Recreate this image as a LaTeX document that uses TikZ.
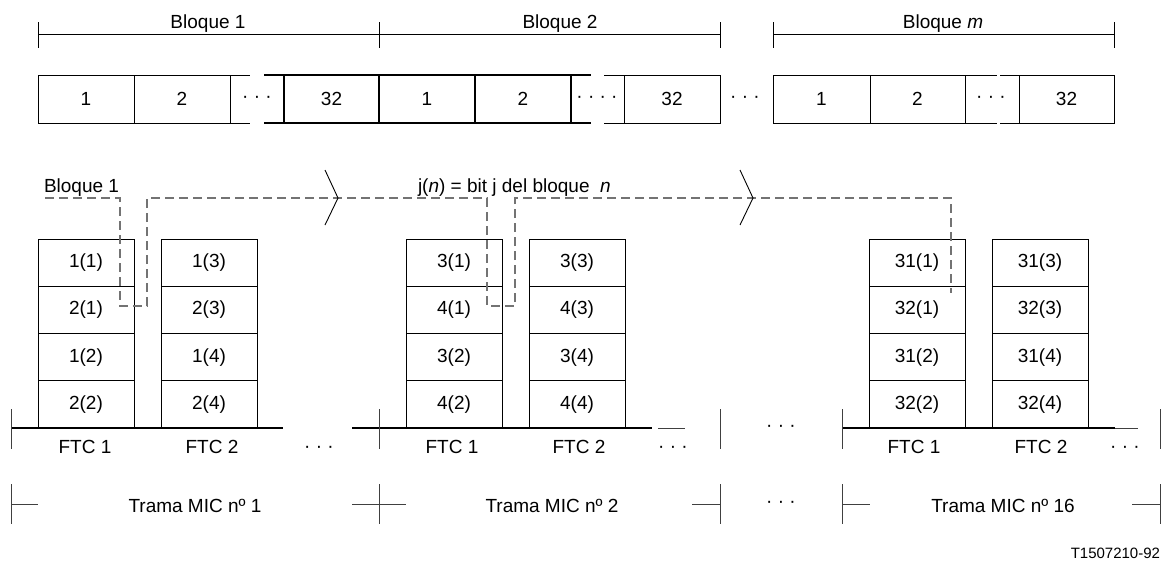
\documentclass[tikz,border=0pt]{standalone}
\usepackage{fontspec}
\setmainfont{Liberation Sans}
\begin{document}
\begin{tikzpicture}[x=1pt,y=-1pt,
  every node/.style={font=\fontsize{19}{22}\selectfont, inner sep=0pt, outer sep=0pt},
  cell/.style={draw, line width=0.9pt, minimum width=#1pt, minimum height=48pt, anchor=north west},
  cell/.default=96,
  thickcell/.style={cell=#1, line width=1.7pt},
  thickcell/.default=96,
  scell/.style={draw, line width=1pt, minimum width=96pt, minimum height=47.25pt, anchor=north west},
  lnthin/.style={line width=0.9pt},
  lnthick/.style={line width=1.7pt},
  lnbase/.style={line width=2pt},
  lntick/.style={line width=0.9pt, draw=black!75},
  dashline/.style={draw=black!55, line width=1.3pt, dash pattern=on 9pt off 5pt},
  lbl/.style={anchor=base},
  dotsnode/.style={anchor=center}
]
\useasboundingbox (0,0) rectangle (1161,562);

% ---------- top brackets ----------
\draw[lnthin] (38,22) -- (38,48);
\draw[lnthin] (379,22) -- (379,48);
\draw[lnthin] (720,22) -- (720,48);
\draw[lnthin] (773,22) -- (773,48);
\draw[lnthin] (1114,22) -- (1114,48);
\draw[lnthin] (38,34) -- (720,34);
\draw[lnthin] (773,34) -- (1114,34);
\node[lbl] (lb1) at (208,28) {Bloque 1};
\node[lbl] (lb2) at (560,28) {Bloque 2};
\node[lbl] (lbm) at (943,28) {Bloque \textit{m}};

% ---------- top row of bits ----------
\node[cell] (a1) at (38,75) {1};
\node[cell] (a2) at (134,75) {2};
\node[thickcell=95] (a32) at (284,75) {32};
\node[thickcell] (b1) at (379,75) {1};
\node[thickcell] (b2) at (475,75) {2};
\node[cell] (b32) at (624,75) {32};
\node[cell=97] (m1) at (773,75) {1};
\node[cell=95] (m2) at (870,75) {2};
\node[cell=95] (m32) at (1019,75) {32};

\draw[lnthin] (a2.north east) -- (250,75);
\draw[lnthin] (a2.south east) -- (250,123);
\draw[lnthick] (264,75) -- (a32.north west);
\draw[lnthick] (264,123) -- (a32.south west);
\draw[lnthick] (b2.north east) -- (591,75);
\draw[lnthick] (b2.south east) -- (591,123);
\draw[lnthin] (604,75) -- (b32.north west);
\draw[lnthin] (604,123) -- (b32.south west);
\draw[lnthin] (m2.north east) -- (997,75);
\draw[lnthin] (m2.south east) -- (997,123);
\draw[lnthin] (1000,75) -- (m32.north west);
\draw[lnthin] (1000,123) -- (m32.south west);

\node[dotsnode] (d1) at (257,99) {· · ·};
\node[dotsnode] (d2) at (597,99) {· · · ·};
\node[dotsnode] (d3) at (745,99) {· · ·};
\node[dotsnode] (d4) at (991,99) {· · ·};

% ---------- middle labels ----------
\node[anchor=base west] (lbx) at (44,192) {Bloque 1};
\node[anchor=base west] (lbj) at (418,192) {j(\textit{n}) = bit j del bloque \ \textit{n}};

% ---------- stacks ----------
\node[scell] (A1) at (38,239) {1(1)};
\node[scell] (A2) at (38,286.25) {2(1)};
\node[scell] (A3) at (38,333.5) {1(2)};
\node[scell] (A4) at (38,380.75) {2(2)};
\node[scell] (B1) at (161,239) {1(3)};
\node[scell] (B2) at (161,286.25) {2(3)};
\node[scell] (B3) at (161,333.5) {1(4)};
\node[scell] (B4) at (161,380.75) {2(4)};
\node[scell] (C1) at (406,239) {3(1)};
\node[scell] (C2) at (406,286.25) {4(1)};
\node[scell] (C3) at (406,333.5) {3(2)};
\node[scell] (C4) at (406,380.75) {4(2)};
\node[scell] (D1) at (529,239) {3(3)};
\node[scell] (D2) at (529,286.25) {4(3)};
\node[scell] (D3) at (529,333.5) {3(4)};
\node[scell] (D4) at (529,380.75) {4(4)};
\node[scell] (E1) at (869,239) {31(1)};
\node[scell] (E2) at (869,286.25) {32(1)};
\node[scell] (E3) at (869,333.5) {31(2)};
\node[scell] (E4) at (869,380.75) {32(2)};
\node[scell] (F1) at (992,239) {31(3)};
\node[scell] (F2) at (992,286.25) {32(3)};
\node[scell] (F3) at (992,333.5) {31(4)};
\node[scell] (F4) at (992,380.75) {32(4)};

% ---------- dashed path ----------
\coordinate (p0) at (45,198);
\coordinate (p1) at (120,198);
\coordinate (p2) at (120,306);
\coordinate (p3) at (147,306);
\coordinate (p4) at (147,198);
\coordinate (p5) at (487,198);
\coordinate (p6) at (487,306);
\coordinate (p7) at (515,306);
\coordinate (p8) at (515,198);
\coordinate (p9) at (951,198);
\coordinate (p10) at (951,293);
\draw[dashline] (p0) -- (p1) -- (p2) -- (p3) -- (p4) -- (p5) -- (p6) -- (p7) -- (p8) -- (p9) -- (p10);

\draw[lnthin] (325,170) -- (338,198) -- (325,225);
\draw[lnthin] (740,170) -- (753,198) -- (740,225);

% ---------- frame baselines ----------
\draw[lnbase] (11,428) -- (283,428);
\draw[lnbase] (352,428) -- (652,428);
\draw[lnbase] (842,428) -- (1115,428);
\draw[lntick] (658,428) -- (685,428);
\draw[lntick] (1115,428) -- (1138,428);
\foreach \xx in {11,379,720,842,1160} {
  \draw[lntick] (\xx,409) -- (\xx,449);
  \draw[lntick] (\xx,484) -- (\xx,524);
}
\draw[lntick] (11,504) -- (38,504);
\draw[lntick] (352,504) -- (406,504);
\draw[lntick] (692,504) -- (720,504);
\draw[lntick] (842,504) -- (870,504);
\draw[lntick] (1132,504) -- (1160,504);

\node[lbl] (f1) at (85,453) {FTC 1};
\node[lbl] (f2) at (212,453) {FTC 2};
\node[lbl] (f3) at (452,453) {FTC 1};
\node[lbl] (f4) at (579,453) {FTC 2};
\node[lbl] (f5) at (914,453) {FTC 1};
\node[lbl] (f6) at (1041,453) {FTC 2};

\node[dotsnode] (e1) at (319,449) {· · ·};
\node[dotsnode] (e2) at (673,449) {· · ·};
\node[dotsnode] (e3) at (1125,449) {· · ·};
\node[dotsnode] (e4) at (781,428) {· · ·};
\node[dotsnode] (e5) at (781,504) {· · ·};

\node[lbl] (t1) at (195,512) {Trama MIC nº 1};
\node[lbl] (t2) at (552,512) {Trama MIC nº 2};
\node[lbl] (t3) at (1003,512) {Trama MIC nº 16};

\node[anchor=base east, font=\fontsize{15}{18}\selectfont] (ref) at (1160,558) {T1507210-92};
\end{tikzpicture}
\end{document}
